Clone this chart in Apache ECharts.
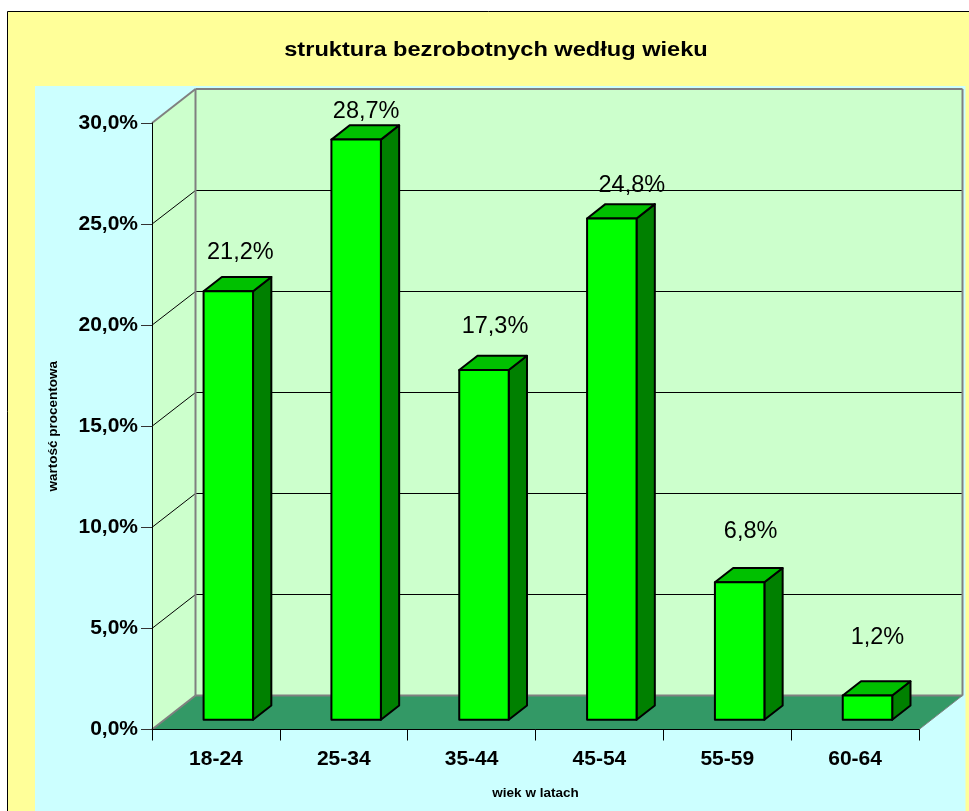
<!DOCTYPE html>
<html>
<head>
<meta charset="utf-8">
<style>html,body{margin:0;padding:0;background:#fff}#c{width:969px;height:811px}</style>
<script src="https://cdn.jsdelivr.net/npm/echarts@6/dist/echarts.min.js"></script>
</head>
<body>
<div id="c"></div>
<script>
var titleText = 'struktura bezrobotnych według wieku';
var xName = 'wiek w latach';
var yName = 'wartość procentowa';
var categories = ['18-24', '25-34', '35-44', '45-54', '55-59', '60-64'];
var values = [21.2, 28.7, 17.3, 24.8, 6.8, 1.2];
var yTicks = [0, 5, 10, 15, 20, 25, 30];

var DEPTH_X = 43.5, DEPTH_Y = -34;
var BAR_NEAR = 0.285, BAR_DEPTH = 0.42, BAR_WIDTH = 0.387;
var LABEL_SHIFT = [[0, -2], [-2, 0], [-1, -3], [8, 0], [-1, 1], [-2, 0]];
var FONT = '"Liberation Sans", Arial, sans-serif';

function fmt(v, d) { return v.toFixed(d).replace('.', ',') + '%'; }
function crisp(v) { return Math.round(v - 0.5) + 0.5; }

function renderWalls(params, api) {
  var cs = params.coordSys;
  var x0 = cs.x, x1 = cs.x + cs.width;
  var yOf = function (v) { return api.coord([0, v])[1]; };
  var y0 = yOf(0), yT = yOf(30);
  var dx = DEPTH_X, dy = DEPTH_Y;
  var kids = [];
  var poly = function (pts, fill) {
    kids.push({ type: 'polygon', shape: { points: pts }, style: { fill: fill } });
  };
  var line = function (a, b, c, w) {
    kids.push({ type: 'line', shape: { x1: a[0], y1: a[1], x2: b[0], y2: b[1] }, style: { stroke: c, lineWidth: w, fill: null } });
  };
  poly([[x0 + dx, yT + dy], [x1 + dx, yT + dy], [x1 + dx, y0 + dy], [x0 + dx, y0 + dy]], '#CCFFCC');
  poly([[x0, yT], [x0 + dx, yT + dy], [x0 + dx, y0 + dy], [x0, y0]], '#CCFFCC');
  poly([[x0, y0], [x1, y0], [x1 + dx, y0 + dy], [x0 + dx, y0 + dy]], '#339966');
  yTicks.forEach(function (v) {
    if (v === 0 || v === 30) return;
    var y = yOf(v);
    var by = crisp(y + dy);
    line([x0, y], [x0 + dx, by], '#000', 1);
    line([x0 + dx, by], [x1 + dx, by], '#000', 1);
  });
  var grey = '#808080';
  line([x0, yT], [x0 + dx, yT + dy], grey, 2);
  line([x0 + dx, yT + dy], [x1 + dx, yT + dy], grey, 2);
  line([x0 + dx, yT + dy], [x0 + dx, y0 + dy], grey, 2);
  line([x1 + dx, yT + dy], [x1 + dx, y0 + dy], grey, 2);
  line([x0 + dx, y0 + dy], [x1 + dx, y0 + dy], grey, 2);
  line([x0, y0], [x0 + dx, y0 + dy], grey, 2);
  line([x1, y0], [x1 + dx, y0 + dy], grey, 1);
  return { type: 'group', children: kids };
}

function renderBar(params, api) {
  var i = api.value(0);
  var val = api.value(1);
  var c = api.coord([i, val]);
  var base = api.coord([i, 0]);
  var band = api.size([1, 0])[0];
  var w = band * BAR_WIDTH;
  var ox = DEPTH_X * BAR_NEAR, oy = DEPTH_Y * BAR_NEAR;
  var l = c[0] + ox - w / 2, r = l + w;
  var t = c[1] + oy, b = base[1] + oy;
  var dx = DEPTH_X * BAR_DEPTH, dy = DEPTH_Y * BAR_DEPTH;
  var st = function (fill) { return { fill: fill, stroke: '#000', lineWidth: 2, lineJoin: 'round' }; };
  var shift = LABEL_SHIFT[i];
  var labelY = t + dy - 45 + 1.07 * val + shift[1];
  return {
    type: 'group',
    children: [
      { type: 'polygon', shape: { points: [[r, t], [r + dx, t + dy], [r + dx, b + dy], [r, b]] }, style: st('#008000') },
      { type: 'polygon', shape: { points: [[l, t], [r, t], [r + dx, t + dy], [l + dx, t + dy]] }, style: st('#00C000') },
      { type: 'rect', shape: { x: l, y: t, width: w, height: b - t }, style: st('#00FF00') },
      { type: 'text', style: { x: (l + r) / 2 + 12 + shift[0], y: labelY, text: fmt(val, 1), fill: '#000', font: '23.5px ' + FONT, align: 'center', verticalAlign: 'middle' } }
    ]
  };
}

var chart = echarts.init(document.getElementById('c'), null, { renderer: 'canvas' });
chart.setOption({
  animation: false,
  backgroundColor: '#FFFFFF',
  graphic: [
    { type: 'rect', z: -10, shape: { x: 7.5, y: 11.5, width: 970, height: 810 }, style: { fill: '#FFFF99', stroke: '#000', lineWidth: 1 } },
    { type: 'rect', z: -9, shape: { x: 35, y: 86, width: 930.5, height: 725 }, style: { fill: '#CCFFFF' } },
    { type: 'text', z: 5, x: 496, y: 50, scaleX: 1.18, scaleY: 1,
      style: { x: 0, y: 0, text: titleText, align: 'center', verticalAlign: 'middle', fill: '#000', font: 'bold 20px ' + FONT } }
  ],
  grid: { left: 152, right: 50, top: 123, bottom: 81.5, containLabel: false },
  xAxis: {
    type: 'category', data: categories, z: 3,
    name: xName, nameLocation: 'middle', nameGap: 57,
    nameTextStyle: { fontFamily: FONT, fontSize: 13.5, fontWeight: 'bold', color: '#000' },
    axisLine: { lineStyle: { color: '#000', width: 1 } },
    axisTick: { show: true, length: 11, alignWithLabel: false, lineStyle: { color: '#000' } },
    axisLabel: { fontFamily: FONT, fontSize: 21, fontWeight: 'bold', color: '#000', margin: 19 },
    splitLine: { show: false }
  },
  yAxis: {
    type: 'value', min: 0, max: 30, interval: 5, z: 3,
    name: yName, nameLocation: 'middle', nameGap: 92, nameRotate: 90,
    nameTextStyle: { fontFamily: FONT, fontSize: 13.5, fontWeight: 'bold', color: '#000' },
    axisLine: { show: true, lineStyle: { color: '#000', width: 1 } },
    axisTick: { show: true, length: 11, lineStyle: { color: '#333' } },
    axisLabel: { fontFamily: FONT, fontSize: 21, fontWeight: 'bold', color: '#000', margin: 14, formatter: function (v) { return fmt(v, 1); } },
    splitLine: { show: false }
  },
  series: [
    { type: 'custom', z: 1, silent: true, clip: false, coordinateSystem: 'cartesian2d', renderItem: renderWalls, data: [[0, 0]] },
    { type: 'custom', z: 4, silent: true, clip: false, coordinateSystem: 'cartesian2d', renderItem: renderBar,
      encode: { x: 0, y: 1 },
      data: values.map(function (v, i) { return [i, v]; }) }
  ]
});
</script>
</body>
</html>
